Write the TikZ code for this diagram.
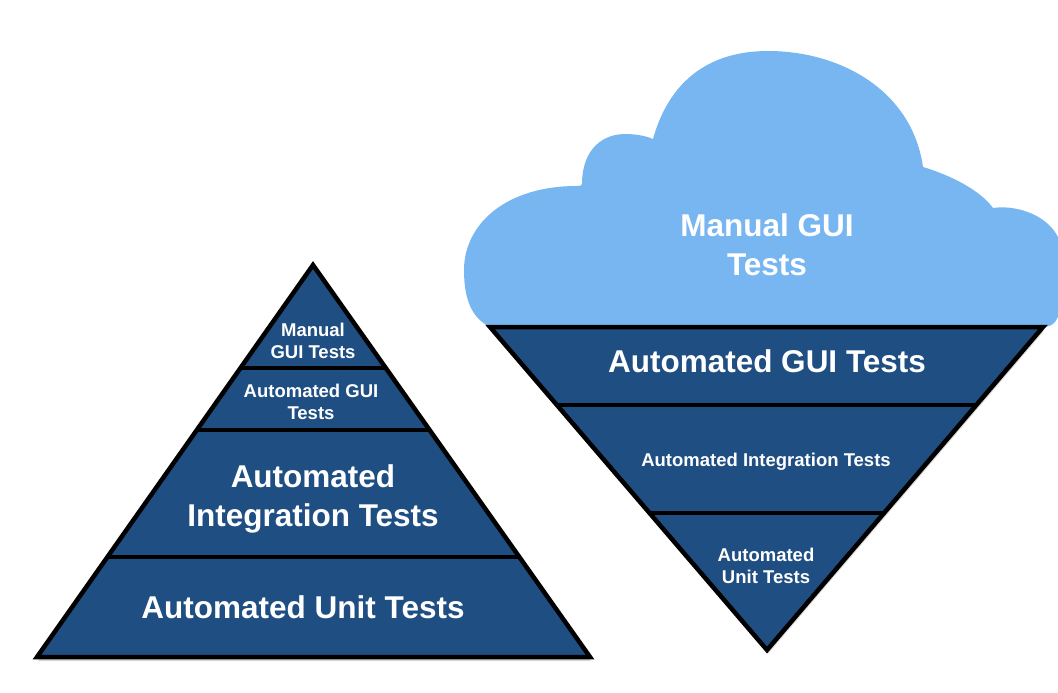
\documentclass[tikz,border=0pt]{standalone}
\usepackage{fontspec}
\setmainfont{Liberation Sans}
\usetikzlibrary{calc}
\definecolor{tierblue}{RGB}{31,78,130}
\definecolor{cloudblue}{RGB}{120,182,242}
\tikzset{
  tier/.style={fill=tierblue,draw=black,line width=4.5pt,line join=miter},
  divider/.style={draw=black,line width=4pt},
  shadowfill/.style={fill=black!30,opacity=0.5},
  bigtxt/.style={text=white,font=\fontsize{31.5}{39}\selectfont\bfseries,align=center,inner sep=0pt},
  smalltxt/.style={text=white,font=\fontsize{18.5}{22.5}\selectfont\bfseries,align=center,inner sep=0pt},
}
\begin{document}
\begin{tikzpicture}[x=1pt,y=-1pt]
\useasboundingbox (0,0) rectangle (1058,693);
\clip (0,0) rectangle (1058,693);

% ---------------- left pyramid ----------------
\coordinate (A) at (313,265);
\coordinate (BL) at (37,657);
\coordinate (BR) at (590,657);
\fill[shadowfill] ([shift={(1,4)}]A) -- ([shift={(1,4)}]BL) -- ([shift={(1,4)}]BR) -- cycle;
\draw[tier] (A) -- (BL) -- (BR) -- cycle;
\draw[divider] ($(A)!0.263!(BL)$) coordinate (p1l) -- ($(A)!0.263!(BR)$) coordinate (p1r);
\draw[divider] ($(A)!0.421!(BL)$) coordinate (p2l) -- ($(A)!0.421!(BR)$) coordinate (p2r);
\draw[divider] ($(A)!0.745!(BL)$) coordinate (p3l) -- ($(A)!0.745!(BR)$) coordinate (p3r);
\node[smalltxt] (lman) at (313,341) {Manual\\GUI Tests};
\node[smalltxt] (lgui) at (311,402) {Automated GUI\\Tests};
\node[bigtxt] (lint) at (313,499) {Automated\\Integration Tests};
\node[bigtxt] (lunit) at (303,607) {Automated Unit Tests};

% ---------------- cloud ----------------
\fill[cloudblue] (490,327)
  .. controls (472,318) and (464,300) .. (464,270)
  .. controls (464,225) and (505,185) .. (580,186)
  -- (582,184)
  .. controls (582,155) and (597,135) .. (624,134)
  .. controls (637,134) and (646,136) .. (653,139)
  .. controls (668,85) and (705,51) .. (768,51)
  .. controls (840,51) and (912,90) .. (923,167)
  .. controls (950,175) and (980,190) .. (993,208)
  .. controls (1012,205) and (1045,212) .. (1058,237)
  -- (1060,303)
  .. controls (1060,318) and (1055,327) .. (1043,327)
  -- cycle;
\node[bigtxt] (cman) at (767,245) {Manual GUI\\Tests};

% ---------------- inverted triangle ----------------
\coordinate (TL) at (490,327);
\coordinate (TR) at (1043,327);
\coordinate (B) at (767,650);
\fill[shadowfill] ([shift={(1,4)}]TL) -- ([shift={(1,4)}]TR) -- ([shift={(1,4)}]B) -- cycle;
\draw[tier] (TL) -- (TR) -- (B) -- cycle;
\draw[divider] ($(TL)!0.241!(B)$) coordinate (q1l) -- ($(TR)!0.241!(B)$) coordinate (q1r);
\draw[divider] ($(TL)!0.576!(B)$) coordinate (q2l) -- ($(TR)!0.576!(B)$) coordinate (q2r);
\node[bigtxt] (rgui) at (767,361) {Automated GUI Tests};
\node[smalltxt] (rint) at (766,462) {Automated Integration Tests};
\node[smalltxt] (runit) at (766,566) {Automated\\Unit Tests};
\end{tikzpicture}
\end{document}
